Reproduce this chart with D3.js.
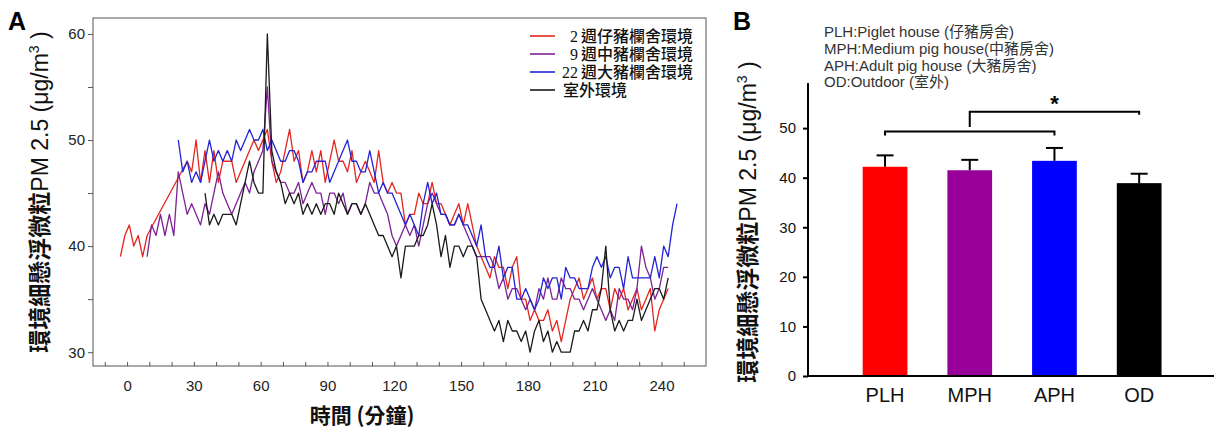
<!DOCTYPE html>
<html>
<head>
<meta charset="utf-8">
<script src="https://cdn.jsdelivr.net/npm/d3@7"></script>
<style>
  html, body { margin: 0; padding: 0; background: #fff; }
  svg { display: block; }
</style>
</head>
<body>
<div id="chart"></div>
<script>
// ---------------- DATA ----------------
// Panel A: PM2.5 time series, one reading every 2 minutes from each series' start time
const stepMin = 2;
const redStart = -3;
const redValues = [39,41,42,40,41,39,41,null,null,null,null,null,null,null,null,48,47,50,46,49,46,49,46,48,48,48,46,47,48,49,50,49,50,51,48,46,47,49,51,48,49,46,47,49,47,49,46,48,50,48,48,47,49,46,47,48,47,46,49,46,45,46,45,45,42,43,43,45,44,44,46,44,44,43,42,43,44,42,44,42,40,39,38,37,39,38,38,36,38,39,35,35,33,34,33,33,34,32,33,31,33,35,36,37,35,36,37,35,36,36,34,36,35,36,34,35,36,34,35,36,32,34,35,36];
const purpleStart = 9;
const purpleValues = [39,42,41,43,41,43,41,47,45,43,44,43,42,44,43,45,47,45,44,43,44,45,46,45,47,48,49,55,48,47,46,46,45,45,46,44,45,46,45,45,43,45,45,44,45,43,44,44,43,44,46,45,45,44,43,41,40,41,42,41,42,40,42,44,45,44,43,43,42,42,43,42,41,40,39,39,39,39,38,36,37,35,36,36,35,34,35,34,36,35,37,35,35,37,36,36,35,35,34,35,36,35,34,33,34,33,36,35,35,34,36,40,38,37,35,36,38,38];
const blueStart = 23;
const blueValues = [50,47,48,46,47,46,48,50,48,49,48,49,48,50,49,50,51,50,50,51,49,50,49,48,48,49,49,48,46,47,47,48,48,48,46,47,48,49,50,48,48,47,47,49,47,45,46,45,45,44,43,42,43,42,41,44,46,44,45,43,43,42,42,43,42,42,41,40,42,39,38,38,40,37,38,38,35,35,36,35,34,35,37,36,37,37,35,38,37,37,36,36,36,38,39,38,39,37,38,38,36,39,37,37,37,37,37,39,37,40,39,42,44];
const blackStart = 35;
const blackValues = [45,42,43,42,43,43,43,42,44,46,48,46,45,45,60,49,47,46,44,45,44,45,43,44,43,44,43,44,44,43,45,44,43,44,44,43,44,43,42,41,41,40,39,40,37,40,40,40,41,41,42,44,42,39,41,38,40,40,39,40,40,39,35,34,33,32,33,31,33,32,32,31,32,30,32,33,31,32,30,31,30,30,30,32,32,33,32,34,34,36,40,34,32,33,32,33,33,35,33,34,35,36,36,35,37];

const seriesNames = ["2", "9", "22", ""];
const seriesLabels = ["週仔豬欄舍環境", "週中豬欄舍環境", "週大豬欄舍環境", "室外環境"];

const xTickLabelsA = [0, 30, 60, 90, 120, 150, 180, 210, 240];
const yTickLabelsA = [30, 40, 50, 60];

// Panel B: mean PM2.5 with error (upper SD)
const categoriesB = ["PLH", "MPH", "APH", "OD"];
const meansB = [42.2, 41.5, 43.4, 38.9];
const errorsB = [2.3, 2.1, 2.6, 1.9];
const yTicksB = [0, 10, 20, 30, 40, 50];
const legendB = ["PLH:Piglet house (仔豬房舍)", "MPH:Medium pig house(中豬房舍)", "APH:Adult pig house (大豬房舍)", "OD:Outdoor (室外)"];

// ---------------- DRAW ----------------
const W = 1214, H = 432;
const svg = d3.select("#chart").append("svg").attr("width", W).attr("height", H)
  .style("font-family", "'Liberation Sans', Arial, sans-serif");

const cjk = "'Noto Sans CJK TC', 'Noto Sans CJK SC', sans-serif";

// ===== Panel A =====
const A = { left: 93, right: 706, top: 18, bottom: 366 };
const xA = d3.scaleLinear().domain([-15.3, 260]).range([A.left, A.right]);
const yA = d3.scaleLinear().domain([28.7, 61.5]).range([A.bottom, A.top]);

svg.append("text").attr("x", 8).attr("y", 30).text("A")
  .attr("font-size", 25).attr("font-weight", "bold").attr("fill", "#000");

// frame
svg.append("rect").attr("x", A.left).attr("y", A.top)
  .attr("width", A.right - A.left).attr("height", A.bottom - A.top)
  .attr("fill", "none").attr("stroke", "#555").attr("stroke-width", 1);

const gxA = svg.append("g").attr("transform", `translate(0,${A.bottom})`)
  .call(d3.axisBottom(xA).tickValues(d3.range(-10, 251, 10)).tickSize(-4).tickPadding(14)
    .tickFormat(d => xTickLabelsA.includes(d) ? d : ""));
gxA.select(".domain").remove();
gxA.selectAll("line").attr("stroke", "#555");
gxA.selectAll("text").attr("font-size", 15).attr("fill", "#222")
  .attr("font-family", "'Liberation Sans', Arial, sans-serif");

const gyA = svg.append("g").attr("transform", `translate(${A.left},0)`)
  .call(d3.axisLeft(yA).tickValues(d3.range(30, 61, 5)).tickSize(5).tickPadding(3)
    .tickFormat(d => yTickLabelsA.includes(d) ? d : ""));
gyA.select(".domain").remove();
gyA.selectAll("line").attr("stroke", "#555");
gyA.selectAll("text").attr("font-size", 15).attr("fill", "#222")
  .attr("font-family", "'Liberation Sans', Arial, sans-serif");

const seriesA = [
  { start: redStart, values: redValues, color: "#e3261f" },
  { start: purpleStart, values: purpleValues, color: "#7d2195" },
  { start: blueStart, values: blueValues, color: "#2323d6" },
  { start: blackStart, values: blackValues, color: "#1a1a1a" }
];
const lineA = d3.line().x(d => xA(d.t)).y(d => yA(d.v));
seriesA.forEach(s => {
  const pts = s.values.map((v, j) => ({ t: s.start + j * stepMin, v }))
    .filter(d => d.v !== null);
  svg.append("path").datum(pts).attr("d", lineA)
    .attr("fill", "none").attr("stroke", s.color).attr("stroke-width", 1.3)
    .attr("stroke-linejoin", "round");
});

// legend A (one multi-line text block)
const legRowY = i => 36 + i * 18;
seriesA.forEach((s, i) => {
  svg.append("line").attr("x1", 530).attr("x2", 555).attr("y1", legRowY(i)).attr("y2", legRowY(i))
    .attr("stroke", s.color).attr("stroke-width", 1.6);
});
const legText = svg.append("text").attr("fill", "#111").attr("font-size", 16);
seriesA.forEach((s, i) => {
  const yy = legRowY(i) + 6;
  if (seriesNames[i]) {
    legText.append("tspan").attr("x", 578).attr("y", yy).attr("text-anchor", "end")
      .attr("font-family", "'Liberation Serif', 'DejaVu Serif', serif").text(seriesNames[i]);
    legText.append("tspan").attr("x", 581).attr("y", yy).attr("text-anchor", "start")
      .attr("font-family", cjk).attr("font-weight", 500).text(seriesLabels[i]);
  } else {
    legText.append("tspan").attr("x", 563).attr("y", yy).attr("text-anchor", "start")
      .attr("font-family", cjk).attr("font-weight", 500).text(seriesLabels[i]);
  }
});

// axis titles
function yTitle(x, yc) {
  const t = svg.append("text").attr("transform", `translate(${x},${yc}) rotate(-90)`)
    .attr("text-anchor", "middle").attr("font-size", 23).attr("fill", "#111");
  t.append("tspan").attr("font-family", cjk).attr("font-weight", "bold").text("環境細懸浮微粒");
  t.append("tspan").attr("font-family", "'Liberation Sans', Arial, sans-serif").text("PM 2.5 (μg/m");
  t.append("tspan").attr("font-family", "'Liberation Sans', Arial, sans-serif")
    .attr("font-size", 14).attr("dy", -9).text("3");
  t.append("tspan").attr("font-family", "'Liberation Sans', Arial, sans-serif")
    .attr("dy", 9).text(" )");
}
yTitle(48, 192);

svg.append("text").attr("x", 362).attr("y", 423).attr("text-anchor", "middle")
  .attr("font-family", cjk).attr("font-size", 21).attr("font-weight", "bold").attr("fill", "#111")
  .text("時間 (分鐘)");

// ===== Panel B =====
const B = { left: 808, right: 1214, top: 83, bottom: 376 };
const xB = d3.scaleBand().domain(categoriesB).range([822.7, 1201.5]).paddingInner(0.472).paddingOuter(0.472);
const yB = d3.scaleLinear().domain([0, 59.1]).range([B.bottom, B.top]);
const colorsB = ["#ff0000", "#990099", "#0000ff", "#000000"];

svg.append("text").attr("x", 733).attr("y", 30).text("B")
  .attr("font-size", 25).attr("font-weight", "bold").attr("fill", "#000");

// legend text B (one multi-line text block)
const legB = svg.append("text").attr("font-size", 15).attr("fill", "#333")
  .attr("font-family", "'Liberation Sans', Arial, 'Noto Sans CJK TC', sans-serif");
legendB.forEach((s, i) => {
  legB.append("tspan").attr("x", 824).attr("y", 37 + i * 16.8).text(s);
});

// bars
svg.append("g").selectAll("rect").data(categoriesB).join("rect")
  .attr("x", d => xB(d)).attr("width", xB.bandwidth())
  .attr("y", (d, i) => yB(meansB[i])).attr("height", (d, i) => yB(0) - yB(meansB[i]))
  .attr("fill", (d, i) => colorsB[i]);

// error bars
const eb = svg.append("g").attr("stroke", "#000").attr("stroke-width", 2);
categoriesB.forEach((c, i) => {
  const cx = xB(c) + xB.bandwidth() / 2;
  eb.append("line").attr("x1", cx).attr("x2", cx)
    .attr("y1", yB(meansB[i])).attr("y2", yB(meansB[i] + errorsB[i]));
  eb.append("line").attr("x1", cx - 8.5).attr("x2", cx + 8.5)
    .attr("y1", yB(meansB[i] + errorsB[i])).attr("y2", yB(meansB[i] + errorsB[i]));
});

// axes B
const gyB = svg.append("g").attr("transform", `translate(${B.left},0)`)
  .call(d3.axisLeft(yB).tickValues(yTicksB).tickSize(5).tickPadding(7));
gyB.select(".domain").attr("stroke-width", 2).attr("d", `M0,${B.top}V${B.bottom}`);
gyB.selectAll("line").attr("stroke-width", 2);
gyB.selectAll("text").attr("font-size", 15).attr("fill", "#111")
  .attr("font-family", "'Liberation Sans', Arial, sans-serif");

svg.append("line").attr("x1", B.left - 1).attr("x2", B.right).attr("y1", B.bottom).attr("y2", B.bottom)
  .attr("stroke", "#000").attr("stroke-width", 2);

// category labels
svg.append("g").selectAll("text").data(categoriesB).join("text")
  .attr("x", d => xB(d) + xB.bandwidth() / 2).attr("y", 402)
  .attr("text-anchor", "middle").attr("font-size", 20).attr("fill", "#111")
  .text(d => d);

// significance brackets
const cx = c => xB(c) + xB.bandwidth() / 2;
const br = svg.append("g").attr("stroke", "#000").attr("stroke-width", 2).attr("fill", "none");
br.append("path").attr("d", `M${cx("PLH")},${yB(48.5)}V${yB(49.3)}H${cx("APH")}V${yB(48.5)}`);
br.append("path").attr("d", `M${cx("MPH")},${yB(50.2)}V${yB(53.3)}H${cx("OD")}V${yB(52.7)}`);
svg.append("text").attr("x", (cx("MPH") + cx("OD")) / 2).attr("y", yB(53.9) + 2)
  .attr("text-anchor", "middle").attr("font-size", 22).attr("font-weight", "bold").text("*");

yTitle(756, 222);
</script>
</body>
</html>
